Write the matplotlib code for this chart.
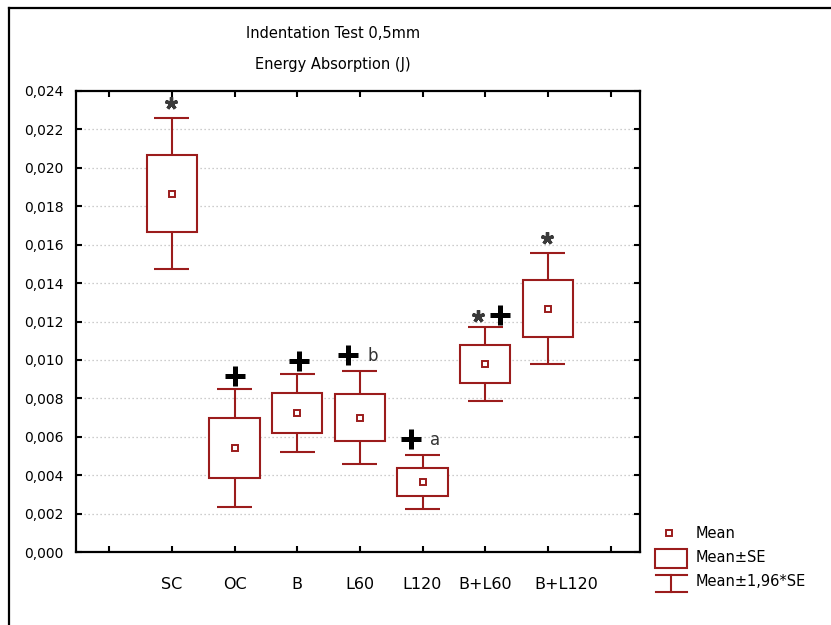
import matplotlib
matplotlib.use("Agg")
import matplotlib.pyplot as plt
import matplotlib.transforms as mtransforms
from matplotlib.patches import Rectangle
from matplotlib.lines import Line2D
from matplotlib.ticker import FixedLocator, FuncFormatter

# ---- data ----
categories = ["SC", "OC", "B", "L60", "L120", "B+L60", "B+L120"]
means = [0.01866, 0.00542, 0.00722, 0.00700, 0.00365, 0.00978, 0.01267]
ses = [0.00200, 0.00156, 0.00104, 0.00124, 0.00072, 0.00099, 0.00147]
sig_marks = ["*", "+", "+", "+b", "+a", "*+", "*"]
title_lines = ["Indentation Test 0,5mm", "Energy Absorption (J)"]
legend_labels = ["Mean", "Mean\u00b1SE", "Mean\u00b11,96*SE"]
yticks = [0.000, 0.002, 0.004, 0.006, 0.008, 0.010, 0.012, 0.014, 0.016,
          0.018, 0.020, 0.022, 0.024]
factor = 1.96

RED = "#9b1c1c"
W, H = 831, 625
fig = plt.figure(figsize=(W / 100, H / 100), dpi=100)
fig.patch.set_facecolor("white")

# outer frame (left + top)
fig.add_artist(Line2D([8.5 / W, 8.5 / W], [0, 1 - 7.5 / H], transform=fig.transFigure,
                      color="black", lw=1.6))
fig.add_artist(Line2D([8.5 / W, 1], [1 - 7.5 / H, 1 - 7.5 / H], transform=fig.transFigure,
                      color="black", lw=1.6))

ax = fig.add_axes([76 / W, 1 - 552 / H, (640 - 76) / W, (552 - 91) / H])
positions = list(range(1, len(categories) + 1))

ax.set_xlim(-0.53, 8.47)
ax.set_ylim(0, 0.024)

# grid
for yv in yticks[1:-1]:
    ax.axhline(yv, color="#bdbdbd", lw=0.9, ls=(0, (1, 2.2)), zorder=0)

box_w = 0.8
cap_w = 0.56
for x, m, s in zip(positions, means, ses):
    lo, hi = m - s, m + s
    wlo, whi = m - factor * s, m + factor * s
    ax.add_patch(Rectangle((x - box_w / 2, lo), box_w, hi - lo, fill=True,
                           facecolor="white", edgecolor=RED, lw=1.5, zorder=3))
    ax.vlines(x, hi, whi, color=RED, lw=1.5, zorder=3)
    ax.vlines(x, wlo, lo, color=RED, lw=1.5, zorder=3)
    ax.hlines([whi, wlo], x - cap_w / 2, x + cap_w / 2, color=RED, lw=1.5, zorder=3)
ax.plot(positions, means, ls="none", marker="s", ms=5, mfc="white", mec=RED, mew=1.4,
        zorder=4)


def offset(dx_px, dy_px):
    return ax.transData + mtransforms.ScaledTranslation(dx_px / 100, dy_px / 100,
                                                        fig.dpi_scale_trans)


def star(x, y, dx, dy):
    ax.plot([x], [y], marker=(5, 2, 0), ms=9, mew=2.4, color="#3a3a3a",
            transform=offset(dx, dy), clip_on=False, zorder=5)


def plus(x, y, dx, dy):
    ax.plot([x], [y], marker="+", ms=14, mew=3.6, color="black",
            transform=offset(dx, dy), clip_on=False, zorder=5)


# significance marks above upper whisker
for x, m, s, mk in zip(positions, means, ses, sig_marks):
    top = m + factor * s
    if mk == "*":
        star(x, top, -1, 15)
    elif mk == "*+":
        star(x, top, -7, 11)
        plus(x, top, 15, 12)
    elif mk.startswith("+"):
        dx = 0 if len(mk) == 1 else -12
        if x == 3:
            dx = 2
        plus(x, top, dx, 13 if len(mk) == 1 else 16)
        if len(mk) > 1:
            ax.text(x, top, mk[1], transform=offset(13, 15), ha="center", va="center",
                    fontsize=12, color="#333333")

# ticks
ax.xaxis.set_major_locator(FixedLocator(list(range(0, len(categories) + 2))))
ax.set_xticklabels([""] + categories + [""])
ax.yaxis.set_major_formatter(FuncFormatter(lambda v, p: f"{v:.3f}".replace(".", ",")))
ax.yaxis.set_major_locator(FixedLocator(yticks))
ax.tick_params(axis="both", direction="in", length=4, width=1.5, color="black",
               top=True, right=True)
ax.tick_params(axis="y", labelsize=10, pad=9)
ax.tick_params(axis="x", labelsize=11.5, pad=18)
for lab in ax.get_xticklabels():
    if lab.get_text() == "B+L120":
        lab.set_transform(lab.get_transform() + mtransforms.ScaledTranslation(
            0.18, 0, fig.dpi_scale_trans))
for sp in ax.spines.values():
    sp.set_linewidth(1.6)
    sp.set_color("black")

# title
fig.text(333 / W, 1 - 33 / H, title_lines[0], ha="center", va="center", fontsize=10.5)
fig.text(333 / W, 1 - 64 / H, title_lines[1], ha="center", va="center", fontsize=10.5)

# legend (manual)
lax = fig.add_axes([0, 0, 1, 1], facecolor="none")
lax.set_xlim(0, W)
lax.set_ylim(H, 0)
lax.axis("off")
lax.plot([669], [533], marker="s", ms=5, mfc="white", mec=RED, mew=1.4)
lax.add_patch(Rectangle((655, 549), 32, 19, fill=False, edgecolor=RED, lw=1.5))
lax.plot([671, 671], [575, 592], color=RED, lw=1.5)
lax.plot([656, 687], [575, 575], color=RED, lw=1.5)
lax.plot([656, 687], [592, 592], color=RED, lw=1.5)
for yy, lab in zip([533, 558, 582], legend_labels):
    lax.text(696, yy, lab, ha="left", va="center", fontsize=10.5)

fig.savefig("out.png", dpi=100)
